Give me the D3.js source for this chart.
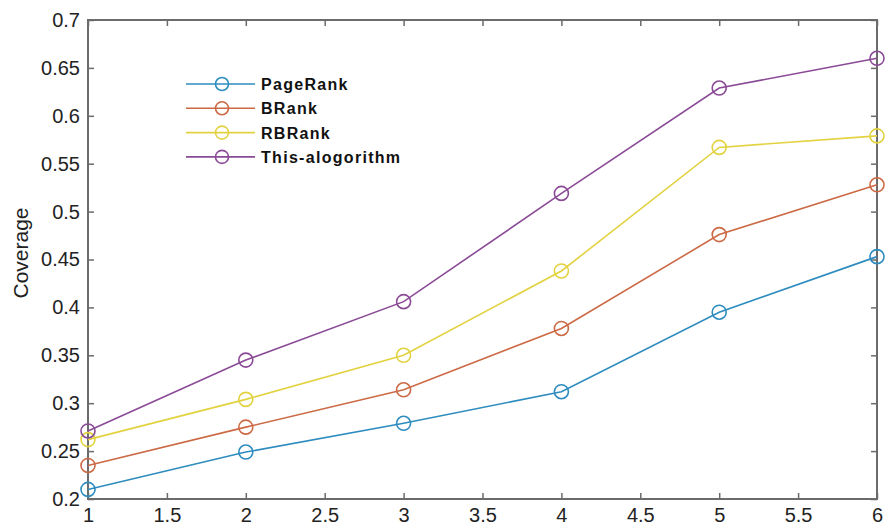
<!DOCTYPE html>
<html lang="en">
<head>
<meta charset="UTF-8">
<title>Coverage chart</title>
<script src="https://d3js.org/d3.v7.min.js"></script>
<style>
  body { margin: 0; background: #fff; }
  svg { display: block; }
  .tick text { font-family: 'Liberation Sans', Arial, sans-serif; }
</style>
</head>
<body>
<script>
// Data
var xValues = [1, 2, 3, 4, 5, 6];
var pageRank = [0.210, 0.249, 0.279, 0.312, 0.395, 0.453];
var bRank = [0.235, 0.275, 0.314, 0.378, 0.476, 0.528];
var rbRank = [0.262, 0.304, 0.350, 0.438, 0.567, 0.579];
var thisAlgorithm = [0.271, 0.345, 0.406, 0.519, 0.629, 0.660];
var seriesNames = ['PageRank', 'BRank', 'RBRank', 'This-alogorithm'];
var xTicks = [1, 1.5, 2, 2.5, 3, 3.5, 4, 4.5, 5, 5.5, 6];
var yTicks = [0.2, 0.25, 0.3, 0.35, 0.4, 0.45, 0.5, 0.55, 0.6, 0.65, 0.7];

var colors = ['#2e8cbf', '#cc6a45', '#e2d240', '#8a4a96'];
var series = [pageRank, bRank, rbRank, thisAlgorithm];

var width = 885, height = 527;
// plot box edges
var plotLeft = 88, plotRight = 877, plotTop = 20, plotBottom = 499;

var svg = d3.select('body').append('svg')
    .attr('width', width)
    .attr('height', height);

var x = d3.scaleLinear().domain([1, 6]).range([plotLeft, plotRight]);
var y = d3.scaleLinear().domain([0.2, 0.7]).range([plotBottom, plotTop]);

var axisColor = '#6b6b6b';

function styleAxis(g) {
    g.select('.domain').remove();
    g.selectAll('.tick line').attr('stroke', axisColor).attr('stroke-width', 1.5);
    g.selectAll('.tick text')
        .attr('fill', '#222')
        .style('font-size', '20px');
}

// bottom axis (ticks point inward)
svg.append('g')
    .attr('transform', 'translate(0,' + plotBottom + ')')
    .call(d3.axisBottom(x).tickValues(xTicks).tickSize(-6).tickPadding(9).tickFormat(d3.format('')))
    .call(styleAxis);

// top ticks
svg.append('g')
    .attr('transform', 'translate(0,' + plotTop + ')')
    .call(d3.axisTop(x).tickValues(xTicks).tickSize(-6).tickFormat(''))
    .call(styleAxis);

// left axis
svg.append('g')
    .attr('transform', 'translate(' + plotLeft + ',0)')
    .call(d3.axisLeft(y).tickValues(yTicks).tickSize(-6).tickPadding(8).tickFormat(d3.format('')))
    .call(styleAxis);

// right ticks
svg.append('g')
    .attr('transform', 'translate(' + plotRight + ',0)')
    .call(d3.axisRight(y).tickValues(yTicks).tickSize(-6).tickFormat(''))
    .call(styleAxis);

// box
svg.append('rect')
    .attr('x', plotLeft).attr('y', plotTop)
    .attr('width', plotRight - plotLeft).attr('height', plotBottom - plotTop)
    .attr('fill', 'none')
    .attr('stroke', axisColor)
    .attr('stroke-width', 2);

// y label
svg.append('text')
    .attr('transform', 'translate(28,253) rotate(-90)')
    .attr('text-anchor', 'middle')
    .style('font-family', "'Liberation Sans', Arial, sans-serif")
    .style('font-size', '21px')
    .attr('fill', '#222')
    .text('Coverage');

var line = d3.line()
    .x(function(d, i) { return x(xValues[i]); })
    .y(function(d) { return y(d); });

series.forEach(function(s, k) {
    svg.append('path')
        .datum(s)
        .attr('d', line)
        .attr('fill', 'none')
        .attr('stroke', colors[k])
        .attr('stroke-width', 1.6);

    svg.selectAll('.m' + k)
        .data(s)
        .enter()
        .append('circle')
        .attr('class', 'm' + k)
        .attr('cx', function(d, i) { return x(xValues[i]); })
        .attr('cy', function(d) { return y(d); })
        .attr('r', 7)
        .attr('fill', 'none')
        .attr('stroke', colors[k])
        .attr('stroke-width', 1.6);
});

// legend (no box)
var legend = svg.append('g');
seriesNames.forEach(function(name, k) {
    var ly = 84 + k * 24.3;
    legend.append('line')
        .attr('x1', 186).attr('x2', 255)
        .attr('y1', ly).attr('y2', ly)
        .attr('stroke', colors[k])
        .attr('stroke-width', 1.6);
    legend.append('circle')
        .attr('cx', 222).attr('cy', ly).attr('r', 6.5)
        .attr('fill', 'none')
        .attr('stroke', colors[k])
        .attr('stroke-width', 1.6);
    legend.append('text')
        .attr('x', 261).attr('y', ly + 6)
        .style('font-family', "'Liberation Sans', Arial, sans-serif")
        .style('font-size', '16px')
        .style('font-weight', 'bold')
        .style('letter-spacing', '1.3px')
        .attr('fill', '#111')
        .text(name);
});
</script>
</body>
</html>
